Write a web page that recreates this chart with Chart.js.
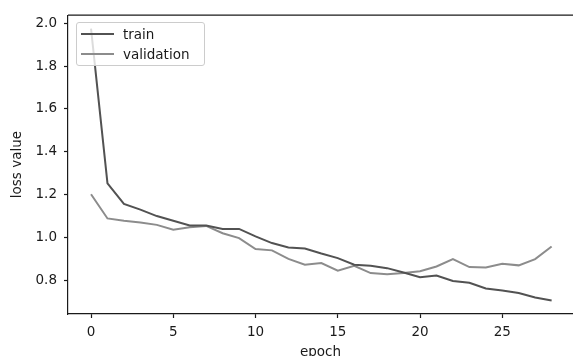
<!DOCTYPE html>
<html>
<head>
<meta charset="utf-8">
<script src="https://cdn.jsdelivr.net/npm/chart.js@4.4.1/dist/chart.umd.min.js"></script>
<style>
  html, body { margin: 0; padding: 0; background: #fff; }
  .wrap { position: relative; width: 573px; height: 356px; }
  #lossChart { display: block; }
  .legend {
    position: absolute; left: 76px; top: 22px; width: 129px; height: 44px;
    background: rgba(255,255,255,0.8); border: 1px solid #cccccc; border-radius: 3px;
    font: 13.5px "DejaVu Sans", sans-serif; color: #1a1a1a; box-sizing: border-box;
  }
  .legend .row { position: absolute; left: 0; height: 20px; line-height: 20px; white-space: nowrap; }
  .legend .handle { position: absolute; left: 4px; top: 9px; width: 33px; height: 2px; }
  .legend .label { position: absolute; left: 46px; top: 0; }
</style>
</head>
<body>
<div class="wrap">
  <canvas id="lossChart" width="573" height="356"></canvas>
  <div class="legend" id="legend"></div>
</div>
<script>
const epochs = [0, 1, 2, 3, 4, 5, 6, 7, 8, 9, 10, 11, 12, 13, 14, 15, 16, 17, 18, 19, 20, 21, 22, 23, 24, 25, 26, 27, 28];
const trainLoss = [1.975, 1.253, 1.157, 1.13, 1.1, 1.078, 1.056, 1.056, 1.04, 1.04, 1.005, 0.974, 0.953, 0.949, 0.925,
  0.904, 0.873, 0.868, 0.857, 0.837, 0.815, 0.823, 0.797, 0.789, 0.762, 0.753, 0.741, 0.72, 0.706];
const valLoss = [1.202, 1.089, 1.078, 1.07, 1.059, 1.036, 1.048, 1.054, 1.02, 0.997, 0.946, 0.94, 0.9, 0.873, 0.881,
  0.845, 0.868, 0.834, 0.828, 0.834, 0.843, 0.865, 0.899, 0.862, 0.86, 0.877, 0.87, 0.899, 0.958];
const yTicks = [0.8, 1.0, 1.2, 1.4, 1.6, 1.8, 2.0];
const xTicks = [0, 5, 10, 15, 20, 25];

const font = { family: "'DejaVu Sans', sans-serif", size: 13.5 };
const ink = "#1a1a1a";

const toPoints = (vals) => epochs.map((e, i) => ({ x: e, y: vals[i] }));

// matplotlib-like top spine (right spine falls just outside the picture)
const topSpine = {
  id: "topSpine",
  afterDraw(chart) {
    const { ctx, chartArea } = chart;
    ctx.save();
    ctx.strokeStyle = ink;
    ctx.lineWidth = 1.2;
    ctx.beginPath();
    ctx.moveTo(chartArea.left, chartArea.top);
    ctx.lineTo(chart.width, chartArea.top);
    ctx.stroke();
    ctx.restore();
  },
};

const ctx = document.getElementById("lossChart").getContext("2d");
const chart = new Chart(ctx, {
  type: "line",
  data: {
    datasets: [
      { label: "train", data: toPoints(trainLoss), borderColor: "#525252", borderWidth: 2, pointRadius: 0, tension: 0, fill: false },
      { label: "validation", data: toPoints(valLoss), borderColor: "#8c8c8c", borderWidth: 2, pointRadius: 0, tension: 0, fill: false },
    ],
  },
  options: {
    responsive: false,
    animation: false,
    layout: { padding: { top: 15, right: 0, left: 0, bottom: 0 } },
    plugins: { legend: { display: false }, tooltip: { enabled: false } },
    scales: {
      x: {
        type: "linear",
        bounds: "data",
        min: -1.4,
        max: 29.3,
        afterFit: (s) => { s.height = 42; },
        afterBuildTicks: (s) => { s.ticks = xTicks.map((v) => ({ value: v })); },
        ticks: { font, color: ink, padding: 6, callback: (v) => String(v), maxRotation: 0 },
        grid: { display: true, drawOnChartArea: false, drawTicks: true, tickLength: 4, tickColor: ink, tickWidth: 1.2 },
        border: { display: true, color: ink, width: 1.2 },
        title: { display: true, text: "epoch", font, color: ink, padding: { top: 0, bottom: -5 } },
      },
      y: {
        type: "linear",
        bounds: "data",
        min: 0.643,
        max: 2.038,
        afterFit: (s) => { s.width = 68; },
        afterBuildTicks: (s) => { s.ticks = yTicks.map((v) => ({ value: v })); },
        ticks: { font, color: ink, padding: 7, callback: (v) => v.toFixed(1) },
        grid: { display: true, drawOnChartArea: false, drawTicks: true, tickLength: 4, tickColor: ink, tickWidth: 1.2 },
        border: { display: true, color: ink, width: 1.2 },
        title: { display: true, text: "loss value", font, color: ink, padding: { top: 9, bottom: 0 } },
      },
    },
  },
  plugins: [topSpine],
});

// legend built from the chart's datasets, styled like a matplotlib framed legend
const legendEl = document.getElementById("legend");
chart.data.datasets.forEach((ds, i) => {
  const row = document.createElement("div");
  row.className = "row";
  row.style.top = (1 + i * 20) + "px";
  row.innerHTML = `<span class="handle" style="background:${ds.borderColor}"></span><span class="label">${ds.label}</span>`;
  legendEl.appendChild(row);
});
</script>
</body>
</html>
